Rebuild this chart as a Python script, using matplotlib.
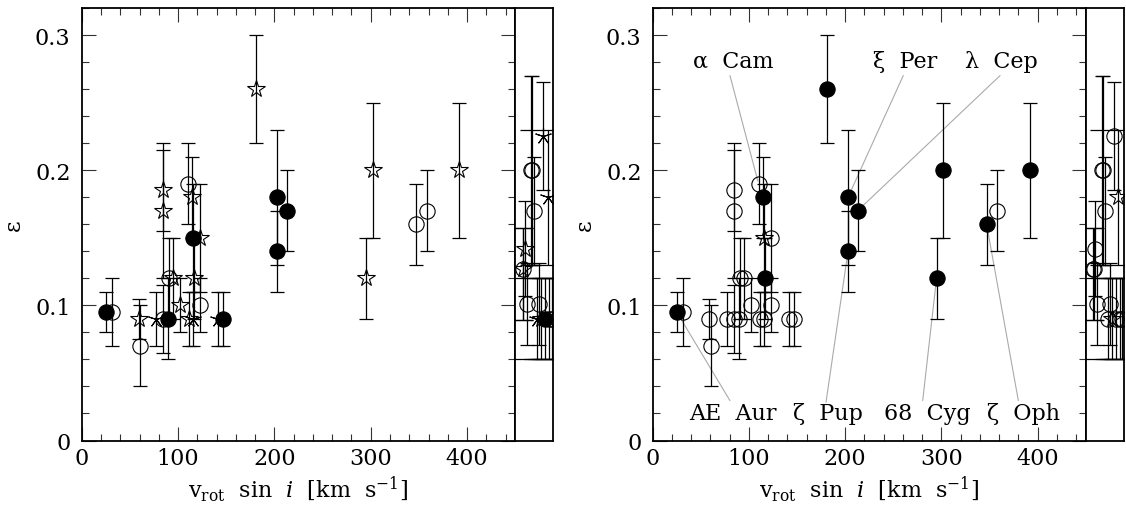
import matplotlib
matplotlib.use("Agg")
import matplotlib.pyplot as plt
from matplotlib.ticker import MultipleLocator, FixedLocator, FixedFormatter

plt.rcParams['font.family'] = ['DejaVu Serif']
plt.rcParams['mathtext.fontset'] = 'dejavuserif'

# ---------------- data (main panels) ----------------
vsini = [25, 31, 59, 61, 77, 84.5, 84.5, 84, 90, 91, 95, 102, 110, 115, 116, 123,
         117, 111, 115.5, 122.5, 142, 147, 181, 203, 203, 213, 302, 295, 347, 358, 392]
eps = [0.095, 0.095, 0.09, 0.07, 0.09, 0.185, 0.17, 0.09, 0.09, 0.12, 0.12, 0.10,
       0.19, 0.18, 0.15, 0.15, 0.12, 0.09, 0.09, 0.10, 0.09, 0.09, 0.26, 0.18, 0.14,
       0.17, 0.20, 0.12, 0.16, 0.17, 0.20]
eps_err = [0.015, 0.025, 0.015, 0.03, 0.02, 0.03, 0.05, 0.025, 0.03, 0.03, 0.03, 0.02,
           0.03, 0.03, 0.04, 0.04, 0.03, 0.02, 0.02, 0.02, 0.02, 0.02, 0.04, 0.05, 0.03,
           0.03, 0.05, 0.03, 0.03, 0.03, 0.05]
# symbol classes: f = filled circle, o = open circle, s = open star, a = asterisk
sym_left = ['f', 'o', 's', 'o', 'a', 's', 's', 'o', 'f', 'o', 's', 's', 'o', 's', 'f', 's',
            's', 's', 'a', 'o', 'a', 'f', 's', 'f', 'f', 'f', 's', 's', 'o', 'o', 's']
sym_right = ['f', 'o', 'o', 'o', 'o', 'o', 'o', 'o', 'o', 'o', 'o', 'o', 'o', 'f', 's', 'o',
             'f', 'o', 'o', 'o', 'o', 'o', 'f', 'f', 'f', 'f', 'f', 'f', 'f', 'o', 'f']

# ---------------- data (narrow side strips, v sin i > 450) ----------------
strip_v = [466.8, 468.2, 470.1, 479.6, 484.2, 460.3, 457.9, 458.4, 462.1, 475.4,
           473.0, 477.5, 481.4, 485.6, 488.7]
strip_eps = [0.20, 0.20, 0.17, 0.225, 0.18, 0.142, 0.127, 0.127, 0.101, 0.101,
             0.09, 0.09, 0.09, 0.09, 0.09]
strip_lo = [0.07, 0.07, 0.04, 0.04, 0.05, 0.035, 0.038, 0.038, 0.03, 0.03,
            0.03, 0.03, 0.03, 0.03, 0.03]
strip_hi = [0.07, 0.07, 0.04, 0.04, 0.05, 0.035, 0.03, 0.03, 0.03, 0.03,
            0.03, 0.03, 0.03, 0.03, 0.03]
strip_cap = [5, 5, 5, 5, 20, 5, 7, 7, 5, 5, 20, 12, 12, 12, 12]
strip_sym_left = ['o', 'o', 'o', 'a', 'a', 's', 'o', 's', 'o', 'o', 'a', 's', 'f', 'o', 'o']
strip_sym_right = ['o', 'o', 'o', 'o', 's', 'o', 'o', 'o', 'o', 'o', 'o', 's', 'o', 'o', 'o']

# ---------------- labels (right panel) ----------------
lab_names = ['α  Cam', 'ξ  Per', 'λ  Cep',
             'AE  Aur', 'ζ  Pup', '68  Cyg', 'ζ  Oph']
lab_text_xy = [(84, 0.281), (262, 0.281), (362, 0.281),
               (83, 0.020), (182, 0.020), (285, 0.020), (385, 0.020)]
lab_line_start = [(80.3, 0.270), (260.4, 0.270), (361, 0.270),
                  (80.3, 0.0295), (180.1, 0.0283), (280.6, 0.0295), (380, 0.0295)]
lab_target = [12, 23, 25, 0, 24, 27, 28]   # index into main data

XLIM = (0, 450)
YLIM = (0, 0.32)
STRIP_XLIM = (450, 490)


def draw_point(ax, x, y, lo, hi, s, cap, ecol='black'):
    ax.errorbar([x], [y], yerr=[[lo], [hi]], fmt='none', ecolor=ecol,
                elinewidth=0.9, capsize=cap, capthick=0.9, zorder=2)
    if s == 'f':
        ax.plot([x], [y], 'o', ms=11, mfc='black', mec='black', mew=0.8, zorder=4)
    elif s == 'o':
        ax.plot([x], [y], 'o', ms=11, mfc='none', mec='black', mew=0.8, zorder=3)
    elif s == 's':
        ax.plot([x], [y], '*', ms=13, mfc='none', mec='black', mew=0.8, zorder=3)
    else:
        ax.plot([x], [y], marker=(5, 2, 0), ms=12, color='black', mew=0.8,
                linestyle='none', zorder=3)


def style_main(ax):
    ax.set_xlim(*XLIM)
    ax.set_ylim(*YLIM)
    ax.xaxis.set_major_locator(FixedLocator([0, 100, 200, 300, 400]))
    ax.xaxis.set_major_formatter(FixedFormatter(['0', '100', '200', '300', '400']))
    ax.xaxis.set_minor_locator(MultipleLocator(20))
    ax.yaxis.set_major_locator(FixedLocator([0, 0.1, 0.2, 0.3]))
    ax.yaxis.set_major_formatter(FixedFormatter(['0', '0.1', '0.2', '0.3']))
    ax.yaxis.set_minor_locator(MultipleLocator(0.02))
    ax.tick_params(which='both', direction='in', top=True, right=True,
                   color='#333333', width=0.8, labelsize=16)
    ax.tick_params(which='major', length=10)
    ax.tick_params(which='minor', length=5)
    ax.tick_params(axis='y', pad=8)
    ax.tick_params(axis='x', pad=5)
    for sp in ax.spines.values():
        sp.set_linewidth(1.3)
    ax.set_ylabel('ε', fontsize=16, labelpad=7)
    ax.set_xlabel(r'v$_{\rm rot}$  sin  $i$  [km  s$^{-1}$]', fontsize=16, labelpad=3)


def style_strip(ax):
    ax.set_xlim(*STRIP_XLIM)
    ax.set_ylim(*YLIM)
    ax.set_xticks([])
    ax.set_yticks([])
    for sp in ax.spines.values():
        sp.set_linewidth(1.3)


fig = plt.figure(figsize=(11.26, 5.06), dpi=100)
W, H = 1126.0, 506.0
bottom = (H - 441.5) / H
height = (441.5 - 9.0) / H
axL = fig.add_axes([81.7 / W, bottom, 433.5 / W, height])
stL = fig.add_axes([515.2 / W, bottom, 38.0 / W, height])
axR = fig.add_axes([652.7 / W, bottom, 433.0 / W, height])
stR = fig.add_axes([1085.7 / W, bottom, 38.0 / W, height])

for ax, syms in ((axL, sym_left), (axR, sym_right)):
    for x, y, e, s in zip(vsini, eps, eps_err, syms):
        draw_point(ax, x, y, e, e, s, 5)
    style_main(ax)

for ax, syms in ((stL, strip_sym_left), (stR, strip_sym_right)):
    for x, y, lo, hi, c, s in zip(strip_v, strip_eps, strip_lo, strip_hi, strip_cap, syms):
        draw_point(ax, x, y, lo, hi, s, c)
    style_strip(ax)

for name, txy, lstart, ti in zip(lab_names, lab_text_xy, lab_line_start, lab_target):
    axR.text(txy[0], txy[1], name, fontsize=16, ha='center', va='center', zorder=6)
    axR.annotate('', xy=(vsini[ti], eps[ti]), xytext=lstart,
                 arrowprops=dict(arrowstyle='-', color='#aaaaaa', lw=0.8,
                                 shrinkA=0, shrinkB=2), zorder=1)

fig.savefig('out.png', dpi=100)
